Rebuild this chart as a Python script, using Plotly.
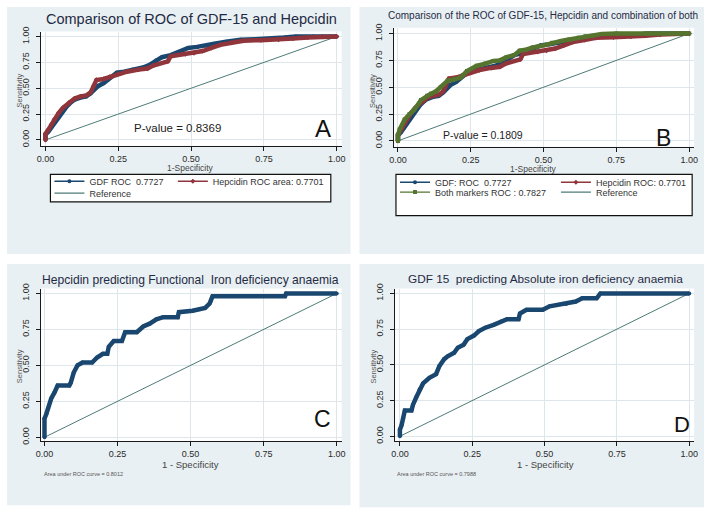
import plotly.graph_objects as go

W, H = 709, 519
FONT = "Liberation Sans, Arial, sans-serif"

# ---------------- data ----------------
tick_vals = [0, 0.25, 0.5, 0.75, 1.0]
tick_text = ["0.00", "0.25", "0.50", "0.75", "1.00"]
ref_fpr = [0, 1]
ref_tpr = [0, 1]

# GDF-15 ROC (panels A and B), AUC 0.7727
gdf_fpr = [0, 0, 0.01, 0.02, 0.03, 0.045, 0.06, 0.075, 0.09, 0.10, 0.12, 0.14, 0.155,
           0.17, 0.18, 0.20, 0.22, 0.245, 0.27, 0.30, 0.335, 0.36, 0.38, 0.40, 0.43,
           0.46, 0.49, 0.52, 0.55, 0.58, 0.62, 0.67, 0.72, 0.78, 0.82, 0.86, 0.92, 1.0]
gdf_tpr = [0, 0.05, 0.08, 0.12, 0.16, 0.22, 0.28, 0.33, 0.37, 0.39, 0.41, 0.42, 0.45,
           0.50, 0.52, 0.55, 0.60, 0.65, 0.66, 0.68, 0.70, 0.73, 0.77, 0.80, 0.82,
           0.85, 0.89, 0.90, 0.91, 0.93, 0.95, 0.97, 0.975, 0.98, 0.99, 1.0, 1.0, 1.0]

# Hepcidin ROC (panels A and B), AUC 0.7701
hep_fpr = [0, 0, 0.01, 0.02, 0.03, 0.045, 0.06, 0.08, 0.10, 0.12, 0.14, 0.155, 0.165,
           0.175, 0.20, 0.22, 0.25, 0.28, 0.32, 0.35, 0.37, 0.42, 0.43, 0.48, 0.51,
           0.54, 0.57, 0.60, 0.64, 0.68, 0.74, 0.80, 0.85, 0.90, 0.95, 1.0]
hep_tpr = [0, 0.06, 0.10, 0.15, 0.20, 0.26, 0.31, 0.36, 0.40, 0.42, 0.43, 0.46, 0.52,
           0.58, 0.59, 0.61, 0.64, 0.66, 0.68, 0.69, 0.72, 0.76, 0.81, 0.83, 0.84,
           0.86, 0.89, 0.92, 0.94, 0.96, 0.965, 0.97, 0.98, 0.99, 1.0, 1.0]

# Both markers ROC (panel B), AUC 0.7827
both_fpr = [0, 0, 0.006, 0.023, 0.04, 0.056, 0.079, 0.10, 0.113, 0.13, 0.147, 0.17, 0.19,
            0.215, 0.237, 0.27, 0.30, 0.328, 0.35, 0.373, 0.40, 0.418, 0.44, 0.463, 0.50,
            0.53, 0.56, 0.588, 0.62, 0.644, 0.67, 0.70, 0.75, 0.85, 1.0]
both_tpr = [0, 0.05, 0.107, 0.20, 0.25, 0.29, 0.38, 0.42, 0.44, 0.46, 0.50, 0.56, 0.57,
            0.59, 0.65, 0.70, 0.72, 0.745, 0.75, 0.78, 0.80, 0.84, 0.85, 0.87, 0.89,
            0.915, 0.93, 0.945, 0.96, 0.975, 0.98, 0.997, 1.0, 1.0, 1.0]

# Hepcidin predicting functional IDA (panel C), AUC 0.8012
c_fpr = [0, 0, 0.006, 0.012, 0.023, 0.034, 0.045, 0.085, 0.09, 0.10, 0.113, 0.13, 0.163,
         0.18, 0.20, 0.215, 0.22, 0.237, 0.265, 0.276, 0.316, 0.338, 0.36, 0.383, 0.406,
         0.456, 0.46, 0.507, 0.53, 0.55, 0.565, 0.57, 0.575, 0.823, 0.827, 1.0]
c_tpr = [0, 0.13, 0.16, 0.20, 0.27, 0.31, 0.36, 0.36, 0.38, 0.45, 0.50, 0.52, 0.52,
         0.555, 0.58, 0.58, 0.63, 0.67, 0.67, 0.73, 0.73, 0.77, 0.79, 0.82, 0.835,
         0.835, 0.87, 0.88, 0.89, 0.90, 0.93, 0.95, 0.98, 0.98, 1.0, 1.0]

# GDF 15 predicting absolute IDA (panel D), AUC 0.7988
d_fpr = [0, 0, 0.006, 0.011, 0.017, 0.04, 0.045, 0.057, 0.068, 0.08, 0.102, 0.125, 0.136,
         0.153, 0.165, 0.1875, 0.2, 0.22, 0.233, 0.256, 0.273, 0.295, 0.324, 0.352, 0.37,
         0.41, 0.415, 0.4375, 0.494, 0.517, 0.574, 0.608, 0.63, 0.68, 0.693, 1.0]
d_tpr = [0, 0.046, 0.08, 0.126, 0.18, 0.18, 0.22, 0.275, 0.33, 0.37, 0.41, 0.435, 0.49,
         0.54, 0.56, 0.585, 0.62, 0.64, 0.68, 0.705, 0.736, 0.76, 0.78, 0.805, 0.82,
         0.82, 0.86, 0.885, 0.885, 0.91, 0.926, 0.943, 0.966, 0.966, 1.0, 1.0]

legend_A = ["GDF ROC  0.7727", "Hepcidin ROC area: 0.7701", "Reference"]
legend_B = ["GDF: ROC  0.7727", "Hepcidin ROC: 0.7701", "Both markers ROC : 0.7827", "Reference"]

# ---------------- styling ----------------
NAVY = "#1A476F"
MAROON = "#90353B"
GREEN = "#55752F"
REFC = "#4E7B77"
PANEL_BG = "#E9F0F3"
GRID = "#DDE6EB"


def X(v):
    return v / W


def Y(v):
    return 1 - v / H


fig = go.Figure()


def curve(x, y, color, symbol, ax):
    fig.add_trace(go.Scatter(
        x=x, y=y, mode="lines+markers", xaxis="x" + ax, yaxis="y" + ax,
        line=dict(color=color, width=4.5),
        marker=dict(color=color, size=4, symbol=symbol),
        showlegend=False, hoverinfo="skip"))


def refline(ax):
    fig.add_trace(go.Scatter(
        x=ref_fpr, y=ref_tpr, mode="lines", xaxis="x" + ax, yaxis="y" + ax,
        line=dict(color=REFC, width=1), showlegend=False, hoverinfo="skip"))


def legend_entry(name, color, symbol, legend, lines_only=False):
    fig.add_trace(go.Scatter(
        x=[None], y=[None], name=name,
        mode="lines" if lines_only else "lines+markers",
        line=dict(color=color, width=1.3),
        marker=dict(color=color, size=4, symbol=symbol),
        legend=legend, showlegend=True, hoverinfo="skip"))


# Panel A (axis suffix "")
refline("")
curve(gdf_fpr, gdf_tpr, NAVY, "circle", "")
curve(hep_fpr, hep_tpr, MAROON, "diamond", "")
# Panel B
refline("2")
curve(gdf_fpr, gdf_tpr, NAVY, "circle", "2")
curve(hep_fpr, hep_tpr, MAROON, "diamond", "2")
curve(both_fpr, both_tpr, GREEN, "square", "2")
# Panel C
refline("3")
curve(c_fpr, c_tpr, NAVY, "circle", "3")
# Panel D
refline("4")
curve(d_fpr, d_tpr, NAVY, "circle", "4")

# legend entries: one legend per entry so that each is placed like the original box layout
legend_entry(legend_A[0], NAVY, "circle", "legend")
legend_entry(legend_A[1], MAROON, "diamond", "legend2")
legend_entry(legend_A[2], REFC, "circle", "legend3", lines_only=True)
legend_entry(legend_B[0], NAVY, "circle", "legend4")
legend_entry(legend_B[1], MAROON, "diamond", "legend5")
legend_entry(legend_B[2], GREEN, "square", "legend6")
legend_entry(legend_B[3], REFC, "circle", "legend7", lines_only=True)

# ---------------- axes ----------------
panels = {
    "": dict(xd=(36, 341), yd=(27, 143), xr=(-0.017, 1.017), yr=(-0.057, 1.048)),
    "2": dict(xd=(394, 698), yd=(23, 144), xr=(-0.0136, 1.017), yr=(-0.055, 1.055)),
    "3": dict(xd=(36, 341), yd=(288, 443), xr=(-0.0135, 1.017), yr=(-0.027, 1.034)),
    "4": dict(xd=(395, 698), yd=(288, 443), xr=(-0.017, 1.017), yr=(-0.034, 1.034)),
}

axis_common = dict(
    tickvals=tick_vals, ticktext=tick_text, showgrid=True, gridcolor=GRID, gridwidth=1,
    zeroline=False, showline=True, linecolor="#1a1a1a", linewidth=1,
    ticks="outside", ticklen=4, tickwidth=1, tickcolor="#1a1a1a",
    tickfont=dict(family=FONT, size=9, color="#2a2a2a"), fixedrange=True,
)

layout_axes = {}
shapes = []
for k, p in panels.items():
    layout_axes["xaxis" + k] = dict(axis_common, domain=[X(p["xd"][0]), X(p["xd"][1])],
                                    range=list(p["xr"]), anchor="y" + k)
    layout_axes["yaxis" + k] = dict(axis_common, domain=[Y(p["yd"][1]), Y(p["yd"][0])],
                                    range=list(p["yr"]), anchor="x" + k, tickangle=-90,
                                    ticklabelstandoff=3)

# panel backgrounds
for (x0, y0, x1, y1) in [(2, 2, 350, 253), (359, 2, 708, 253),
                         (2, 263, 350, 508), (359, 263, 708, 510)]:
    shapes.append(dict(type="rect", xref="paper", yref="paper",
                       x0=X(x0), x1=X(x1), y0=Y(y1), y1=Y(y0),
                       fillcolor=PANEL_BG, line=dict(width=0), layer="below"))
# white plot regions
for k in panels:
    shapes.append(dict(type="rect", xref="x" + k + " domain", yref="y" + k + " domain",
                       x0=0, x1=1, y0=0, y1=1, fillcolor="white",
                       line=dict(width=0), layer="below"))
# legend boxes
for (x0, y0, x1, y1) in [(46, 172, 330, 200), (396, 172, 696, 214)]:
    shapes.append(dict(type="rect", xref="paper", yref="paper",
                       x0=X(x0), x1=X(x1), y0=Y(y1), y1=Y(y0),
                       fillcolor="white", line=dict(color="#111", width=1.2), layer="below"))

# ---------------- text ----------------
TITLE_C = "#1f2a44"
ann = []


def text(t, x, y, size, color="#333", angle=0, xanchor="center"):
    ann.append(dict(text=t, x=X(x), y=Y(y), xref="paper", yref="paper", showarrow=False,
                    xanchor=xanchor, yanchor="middle", textangle=angle,
                    font=dict(family=FONT, size=size, color=color)))


text("Comparison of ROC of GDF-15 and Hepcidin", 189, 14, 14.5, TITLE_C)
text("Comparison of the ROC of GDF-15, Hepcidin and combination of both", 545, 11, 10, TITLE_C)
text("Hepcidin predicting Functional  Iron deficiency anaemia", 188, 279, 12.1, TITLE_C)
text("GDF 15  predicting Absolute iron deficiency anaemia", 547, 278, 11.8, TITLE_C)

text("Sensitivity", 15, 87, 7.5, "#555", -90)
text("Sensitivity", 372, 87, 7.5, "#555", -90)
text("Sensitivity", 15, 367, 7.5, "#555", -90)
text("Sensitivity", 373, 367, 7.5, "#555", -90)
text("1-Specificity", 188, 166, 8.5, "#444")
text("1-Specificity", 535, 167, 8.5, "#444")
text("1 - Specificity", 188, 467, 9.5, "#444")
text("1 - Specificity", 547, 467, 9.5, "#444")

text("P-value = 0.8369", 175, 125, 11.5, "#222")
text("P-value = 0.1809", 484, 132, 10.5, "#222")

text("A", 322, 125, 24, "#111")
text("B", 667, 135, 23, "#111")
text("C", 322, 420, 23, "#111")
text("D", 686, 426, 22, "#111")

text("Area under ROC curve = 0.8012", 37, 476, 5.5, "#555", xanchor="left")
text("Area under ROC curve = 0.7988", 395, 476, 5.5, "#555", xanchor="left")

legend_common = dict(orientation="h", xanchor="left", yanchor="middle",
                     bgcolor="rgba(0,0,0,0)", borderwidth=0, itemwidth=30,
                     font=dict(family=FONT, size=9, color="#333"),
                     itemclick=False, itemdoubleclick=False)

legend_pos = {
    "legend": (45, 179), "legend2": (170, 179), "legend3": (45, 191),
    "legend4": (395, 180), "legend5": (558, 180), "legend6": (395, 190), "legend7": (558, 190),
}
legend_layout = {name: dict(legend_common, x=X(px_), y=Y(py_))
                 for name, (px_, py_) in legend_pos.items()}

fig.update_layout(
    width=W, height=H, autosize=False,
    margin=dict(l=0, r=0, t=0, b=0),
    paper_bgcolor="white", plot_bgcolor="white",
    shapes=shapes, annotations=ann,
    **legend_layout,
    **layout_axes,
)

fig.write_html("out.html",
               config={"displayModeBar": False, "staticPlot": True},
               post_script="document.body.style.margin='0';document.body.style.overflow='hidden';")
